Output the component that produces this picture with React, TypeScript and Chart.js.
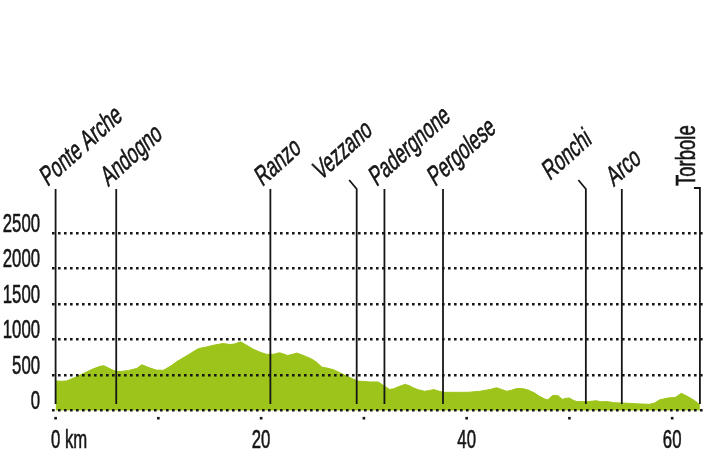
import React, { useEffect, useRef } from 'react';
import { Chart, registerables } from 'chart.js';

Chart.register(...registerables);

// Elevation profile (distance in km, elevation in m)
const distanceKm = [
  0.0, 0.6, 1.1, 1.9, 2.7, 3.5, 4.3, 4.7, 5.1, 5.5, 5.9, 6.5, 7.1, 7.9, 8.4, 9.0, 9.8, 10.5,
  11.2, 11.8, 12.8, 13.9, 14.7, 15.35, 16.3, 17.0, 17.4, 18.0, 18.5, 19.2, 19.8, 20.5, 21.2,
  21.8, 22.6, 23.5, 24.4, 24.9, 25.4, 25.9, 26.4, 27.0, 27.6, 28.3, 28.9, 29.4, 30.6, 31.4,
  32.0, 32.5, 32.9, 33.4, 34.0, 34.4, 34.8, 35.3, 35.9, 36.4, 36.8, 37.2, 37.7, 39.0, 40.2,
  41.3, 42.3, 42.9, 43.4, 43.9, 44.4, 44.9, 45.5, 46.0, 46.6, 47.1, 47.6, 47.9, 48.4, 48.9,
  49.3, 49.7, 50.0, 50.4, 50.7, 51.6, 52.6, 53.1, 53.6, 54.4, 55.7, 56.5, 57.8, 58.3, 58.8,
  59.6, 60.3, 60.9, 61.6, 62.2, 62.7,
];
const elevationM = [
  420, 415, 420, 470, 524, 580, 625, 634, 605, 576, 553, 555, 567, 596, 648, 611, 572, 570,
  630, 692, 778, 875, 899, 922, 947, 932, 940, 971, 930, 870, 830, 795, 795,
  817, 778, 812, 762, 730, 683, 615, 600, 580, 540, 490, 450, 418, 405, 405,
  346, 300, 308, 340, 370, 355, 323, 295, 274, 285, 298, 280, 259, 259, 260,
  274, 300, 323, 300, 274, 290, 313, 310, 290, 251, 202, 165, 154, 216, 212,
  160, 175, 179, 145, 130, 125, 140, 125, 130, 112, 105, 97, 90, 110, 154,
  179, 187, 245, 193, 140, 85,
];

// Places along the route
const placeNames = ['Ponte Arche', 'Andogno', 'Ranzo', 'Vezzano', 'Padergnone', 'Pergolese', 'Ronchi', 'Arco', 'Torbole'];
const placeKm = [0, 5.9, 20.9, 29.3, 32.0, 37.7, 51.6, 55.1, 62.7];

// Axis ticks
const yTickValues = [0, 500, 1000, 1500, 2000, 2500];
const xTickValues = [0, 10, 20, 30, 40, 50, 60];
const xLabelValues = [0, 20, 40, 60];
const xLabelTexts = ['0 km', '20', '40', '60'];

const FONT = '"Liberation Sans Narrow", "Liberation Sans", Arial, sans-serif';
const INK = '#161616';
const GREEN = '#9dc41a';

function drawScaledText(ctx: CanvasRenderingContext2D, text: string, x: number, y: number, k: number, align: CanvasTextAlign) {
  ctx.save();
  ctx.translate(x, y);
  ctx.scale(k, 1);
  ctx.textAlign = align;
  ctx.textBaseline = 'alphabetic';
  ctx.fillText(text, 0, 0);
  ctx.lineWidth = 0.6;
  ctx.strokeText(text, 0, 0);
  ctx.restore();
}

const decorPlugin = {
  id: 'profileDecor',
  afterDraw(chart: any) {
    const ctx: CanvasRenderingContext2D = chart.ctx;
    const xs = chart.scales.x;
    const ys = chart.scales.y;
    const area = chart.chartArea;
    ctx.save();
    ctx.fillStyle = INK;
    ctx.strokeStyle = INK;

    // Y labels
    ctx.font = `26px ${FONT}`;
    const kd = 9.3 / ctx.measureText('0').width;
    ys.ticks.forEach((t: any) => {
      const y = ys.getPixelForValue(t.value) - 1.5;
      drawScaledText(ctx, String(t.value), 40, y, kd, 'right');
    });

    // X tick dots
    xs.ticks.forEach((t: any) => {
      const px = xs.getPixelForValue(t.value);
      ctx.fillRect(px - 1.3, area.bottom + 6.2, 2.6, 2.6);
    });

    // X labels
    const by = area.bottom + 37.5;
    xLabelValues.forEach((v, i) => {
      const px = xs.getPixelForValue(v);
      const txt = xLabelTexts[i];
      if (txt.indexOf(' ') > 0) {
        const first = txt.split(' ')[0];
        const w = ctx.measureText(first).width * kd;
        drawScaledText(ctx, txt, px - w / 2, by, kd, 'left');
      } else {
        drawScaledText(ctx, txt, px, by, kd, 'center');
      }
    });

    // Place lines and labels
    ctx.font = `27px ${FONT}`;
    const kl = 102 / ctx.measureText('Ponte Arche').width;
    const beta = (42 * Math.PI) / 180;
    const alpha = (30 * Math.PI) / 180;
    const lineTop = 189;
    const lineBottom = 404;
    const shifted = new Set(['Vezzano', 'Ronchi']);
    const vertical = new Set(['Torbole']);
    placeNames.forEach((name, i) => {
      const px = xs.getPixelForValue(placeKm[i]);
      ctx.lineWidth = 1.8;
      ctx.beginPath();
      let ax: number;
      let ay: number;
      if (shifted.has(name)) {
        ctx.moveTo(px - 7.5, 180);
        ctx.lineTo(px, lineTop);
        ctx.lineTo(px, lineBottom);
        ax = px - 36;
        ay = 181;
      } else if (vertical.has(name)) {
        ctx.moveTo(px - 6, lineTop - 1);
        ctx.lineTo(px, lineTop - 1);
        ctx.lineTo(px, lineBottom);
        ax = px - 5;
        ay = 186;
      } else {
        ctx.moveTo(px, lineTop);
        ctx.lineTo(px, lineBottom);
        ax = px - 8;
        ay = 187;
      }
      ctx.stroke();

      ctx.save();
      ctx.translate(ax, ay);
      if (vertical.has(name)) {
        ctx.transform(0, -kl, 1, 0, 0, 0);
      } else {
        ctx.transform(Math.cos(beta) * kl, -Math.sin(beta) * kl, Math.sin(alpha), Math.cos(alpha), 0, 0);
      }
      ctx.textAlign = 'left';
      ctx.textBaseline = 'alphabetic';
      ctx.fillText(name, 0, 0);
      ctx.lineWidth = 0.6;
      ctx.strokeText(name, 0, 0);
      ctx.restore();
    });

    ctx.restore();
  },
};

export default function App() {
  const canvasRef = useRef<HTMLCanvasElement | null>(null);

  useEffect(() => {
    const canvas = canvasRef.current;
    if (!canvas) return;
    const points = distanceKm.map((x, i) => ({ x, y: elevationM[i] }));
    const chart = new Chart(canvas, {
      type: 'line',
      data: {
        datasets: [
          {
            data: points,
            fill: 'origin',
            backgroundColor: GREEN,
            borderColor: GREEN,
            borderWidth: 1,
            pointRadius: 0,
            tension: 0,
          },
        ],
      },
      options: {
        animation: false,
        responsive: false,
        devicePixelRatio: 1,
        layout: { padding: { left: 52, right: 9, top: 233.3, bottom: 44.3 } },
        plugins: { legend: { display: false }, tooltip: { enabled: false } },
        scales: {
          x: {
            type: 'linear',
            min: -0.35,
            max: 63.0,
            grid: { display: false },
            border: { display: false },
            ticks: { display: false },
            afterBuildTicks: (s: any) => {
              s.ticks = xTickValues.map((v) => ({ value: v }));
            },
            afterFit: (s: any) => {
              s.height = 0;
            },
          },
          y: {
            type: 'linear',
            min: 0,
            max: 2500,
            grid: { color: INK, lineWidth: 2.6, drawTicks: false, z: 1 },
            border: { display: false, dash: [2.6, 3.4] },
            ticks: { display: false },
            afterBuildTicks: (s: any) => {
              s.ticks = yTickValues.map((v) => ({ value: v }));
            },
            afterFit: (s: any) => {
              s.width = 0;
            },
          },
        },
      },
      plugins: [decorPlugin],
    });
    return () => chart.destroy();
  }, []);

  return (
    <div style={{ position: 'absolute', left: 0, top: 0, width: 712, height: 455, background: '#fff' }}>
      <canvas ref={canvasRef} width={712} height={455} style={{ display: 'block' }} />
    </div>
  );
}
